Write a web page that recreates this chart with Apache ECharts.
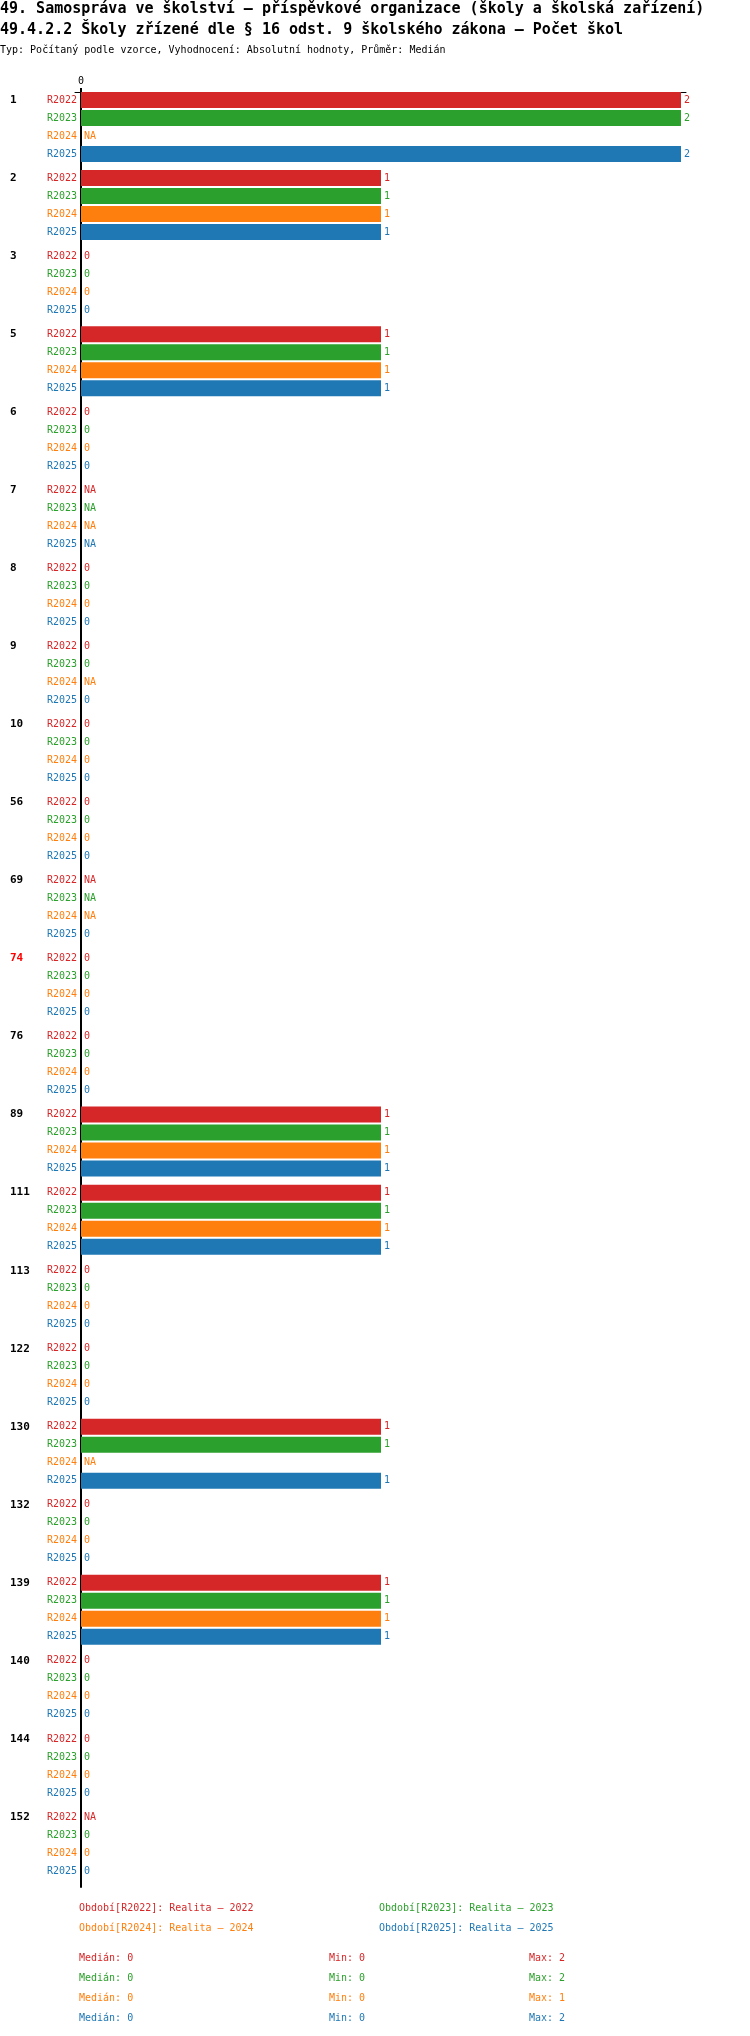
<!DOCTYPE html>
<html>
<head>
<meta charset="utf-8">
<script src="https://cdn.jsdelivr.net/npm/echarts@6/dist/echarts.min.js"></script>
<style>html,body{margin:0;padding:0;background:#fff}#c{width:750px;height:2036px}</style>
</head>
<body>
<div id="c"></div>
<script>
// ---- data ----
const groups = ['1','2','3','5','6','7','8','9','10','56','69','74','76','89','111','113','122','130','132','139','140','144','152'];
const highlightGroup = '74';
const seriesNames = ['R2022','R2023','R2024','R2025'];
const seriesTitles = ['Realita – 2022','Realita – 2023','Realita – 2024','Realita – 2025'];
const colors = ['#d62728','#2ca02c','#ff7f0e','#1f77b4'];
const r2022 = [2,1,0,1,0,null,0,0,0,0,null,0,0,1,1,0,0,1,0,1,0,0,null];
const r2023 = [2,1,0,1,0,null,0,0,0,0,null,0,0,1,1,0,0,1,0,1,0,0,0];
const r2024 = [null,1,0,1,0,null,0,null,0,0,null,0,0,1,1,0,0,null,0,1,0,0,0];
const r2025 = [2,1,0,1,0,null,0,0,0,0,0,0,0,1,1,0,0,1,0,1,0,0,0];
const xTicks = [0];
const titleLine1 = '49. Samospráva ve školství – příspěvkové organizace (školy a školská zařízení)';
const titleLine2 = '49.4.2.2 Školy zřízené dle § 16 odst. 9 školského zákona – Počet škol';
const subtitle = 'Typ: Počítaný podle vzorce, Vyhodnocení: Absolutní hodnoty, Průměr: Medián';

// ---- build ----
const values = [r2022, r2023, r2024, r2025];
const FONT = '"DejaVu Sans Mono", monospace';
const allVals = values.flat().filter(v => v !== null);
const dataMax = Math.max(...allVals);
const xMin = -0.02;
const xMax = dataMax * 1.00834;

function stats(arr) {
  const s = arr.filter(v => v !== null).sort((a, b) => a - b);
  const n = s.length;
  const med = n % 2 ? s[(n - 1) / 2] : (s[n / 2 - 1] + s[n / 2]) / 2;
  return { med, min: s[0], max: s[n - 1] };
}

const series = [];
values.forEach((vals, i) => {
  series.push({
    name: seriesNames[i] + ' label', type: 'bar', stack: 's' + i, barWidth: 16, barGap: '12.5%',
    silent: true, itemStyle: { color: 'rgba(0,0,0,0)' },
    data: vals.map(() => 0),
    label: { show: true, position: 'left', distance: 4, formatter: seriesNames[i],
      color: colors[i], fontSize: 10, fontFamily: FONT },
    emphasis: { disabled: true }
  });
  series.push({
    name: seriesNames[i], type: 'bar', stack: 's' + i, barWidth: 16, barGap: '12.5%',
    itemStyle: { color: colors[i] },
    data: vals.map(v => v === null ? { value: 0, na: true } : v),
    label: { show: true, position: 'right', distance: 3, color: colors[i], fontSize: 10, fontFamily: FONT,
      formatter: p => (p.data && p.data.na) ? 'NA' : String(p.value) },
    emphasis: { disabled: true }
  });
});
series.push({ name: 'pad', type: 'bar', stack: 'pad', barWidth: 6, barGap: '12.5%', data: [], silent: true });

const graphic = [];
function txt(x, y, text, size, color, weight) {
  graphic.push({ type: 'text', x: x, y: y, silent: true,
    style: { text: text, fill: color, font: (weight || 'normal') + ' ' + size + 'px ' + FONT,
      textAlign: 'left', textVerticalAlign: 'middle', align: 'left', verticalAlign: 'middle' } });
}
txt(0, 9, titleLine1, 15, '#000', 'bold');
txt(0, 30, titleLine2, 15, '#000', 'bold');
txt(0, 50, subtitle, 10, '#000');

const legendX = [79, 379];
seriesNames.forEach((n, i) => {
  txt(legendX[i % 2], 1908 + Math.floor(i / 2) * 20, 'Období[' + n + ']: ' + seriesTitles[i], 10, colors[i]);
});
values.forEach((vals, i) => {
  const st = stats(vals);
  const y = 1958 + i * 20;
  txt(79, y, 'Medián: ' + st.med, 10, colors[i]);
  txt(329, y, 'Min: ' + st.min, 10, colors[i]);
  txt(529, y, 'Max: ' + st.max, 10, colors[i]);
});

const chart = echarts.init(document.getElementById('c'), null, { renderer: 'canvas' });
chart.setOption({
  animation: false,
  backgroundColor: '#fff',
  grid: { left: 75, right: 64, top: 92, bottom: 149, containLabel: false },
  xAxis: {
    type: 'value', position: 'top', min: xMin, max: xMax,
    axisLine: { show: true, onZero: false, lineStyle: { color: '#000', width: 1 } },
    axisTick: { show: true, customValues: xTicks, length: 4, inside: false, lineStyle: { color: '#000', width: 2 } },
    axisLabel: { show: true, customValues: xTicks, margin: 6, fontSize: 10, fontFamily: FONT, color: '#000' },
    splitLine: { show: false }
  },
  yAxis: {
    type: 'category', data: groups, inverse: true,
    axisLine: { show: true, onZero: true, lineStyle: { color: '#000', width: 2 } },
    axisTick: { show: false },
    axisLabel: { interval: 0, margin: 65, align: 'left', verticalAlign: 'bottom', lineHeight: 62,
      fontSize: 11, fontWeight: 'bold', fontFamily: FONT,
      color: v => v === highlightGroup ? '#ff0000' : '#000' },
    splitLine: { show: false }
  },
  series: series,
  graphic: graphic
});
</script>
</body>
</html>
